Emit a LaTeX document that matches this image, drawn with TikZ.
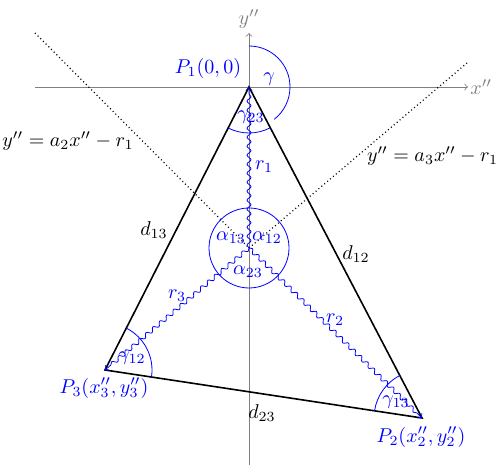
\documentclass[tikz,border=0pt]{standalone}
\usetikzlibrary{decorations.pathmorphing,calc}
\begin{document}
\begin{tikzpicture}[x=0.5pt,y=0.5pt,
  axis/.style={gray,line width=0.4pt,->},
  side/.style={black,line width=0.8pt},
  wavy/.style={blue,line width=0.4pt,->,decorate,decoration={snake,amplitude=1pt,segment length=4.5pt,post length=3pt}},
  angarc/.style={blue,line width=0.4pt},
  guide/.style={black,line width=0.6pt,dash pattern=on 0.5pt off 1.4pt},
  bl/.style={blue,inner sep=1pt}]
\useasboundingbox (0,0) rectangle (498,-469);
% points
\coordinate (P1) at (249,-87);
\coordinate (P2) at (422,-418);
\coordinate (P3) at (105,-370);
\coordinate (C) at (249,-248);
\coordinate (xa) at (35,-87);
\coordinate (xb) at (468,-87);
\coordinate (ya) at (249,-465);
\coordinate (yb) at (249,-33);
\coordinate (L2) at (35,-33);
\coordinate (L3) at (467,-63);
% axes
\draw[axis] (xa) -- (xb) node[right,inner sep=1pt] (xl) {$x''$};
\draw[axis] (ya) -- (yb) node[above,inner sep=2pt] (yl) {$y''$};
% dotted lines
\draw[guide] (L2) -- (C);
\draw[guide] (C) -- (L3);
\node (eq2) at (68,-141) {$y''=a_2x''-r_1$};
\node[anchor=west] (eq3) at (360,-156) {$y''=a_3x''-r_1$};
% triangle
\draw[side] (P1) -- (P2) -- (P3) -- cycle;
\node (d13) at (154,-230) {$d_{13}$};
\node (d12) at (356,-254) {$d_{12}$};
\node (d23) at (262,-413) {$d_{23}$};
% wavy radii
\draw[wavy] (C) -- (P1);
\draw[wavy] (C) -- (P2);
\draw[wavy] (C) -- (P3);
\node[bl] (r1) at (264,-167) {$r_1$};
\node[bl] (r2) at (335,-320) {$r_2$};
\node[bl] (r3) at (177,-296) {$r_3$};
% circle at C
\draw[angarc] (C) circle[radius=20pt];
\node[bl] (a13) at (231,-238) {$\alpha_{13}$};
\node[bl] (a12) at (267,-238) {$\alpha_{12}$};
\node[bl] (a23) at (248,-272) {$\alpha_{23}$};
% angle arcs
\draw[angarc] ($(P1)+(90:20.5pt)$) arc[start angle=90,end angle=-52,radius=20.5pt];
\draw[angarc] ($(P1)+(-117:23pt)$) arc[start angle=-117,end angle=-62.4,radius=23pt];
\draw[angarc] ($(P3)+(-8.6:23.5pt)$) arc[start angle=-8.6,end angle=63,radius=23.5pt];
\draw[angarc] ($(P2)+(117.6:24pt)$) arc[start angle=117.6,end angle=171.4,radius=24pt];
\node[bl] (g) at (269,-79) {$\gamma$};
\node[bl] (g23) at (251,-117) {$\gamma_{23}$};
\node[bl] (g12) at (132,-358) {$\gamma_{12}$};
\node[bl] (g13) at (396,-402) {$\gamma_{13}$};
% point labels
\node[bl] (P1l) at (208,-69) {$P_1(0,0)$};
\node[bl] (P3l) at (104,-388) {$P_3(x_3'',y_3'')$};
\node[bl] (P2l) at (421,-437) {$P_2(x_2'',y_2'')$};
\end{tikzpicture}
\end{document}
